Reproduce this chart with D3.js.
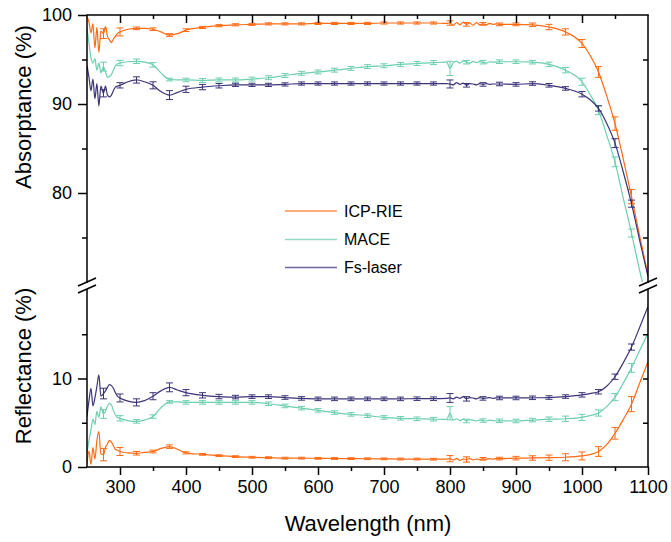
<!DOCTYPE html>
<html>
<head>
<meta charset="utf-8">
<script src="https://cdn.jsdelivr.net/npm/d3@7"></script>
<style>
  body { margin: 0; background: #fff; }
  text { font-family: "Liberation Sans", Arial, sans-serif; fill: #000; }
</style>
</head>
<body>
<div id="chart"></div>
<script>
// wavelength grid shared by every series (nm)
var wl = [250, 253, 256, 259, 262, 265, 268, 271, 275, 278, 281, 284, 287, 290, 293, 296,
  300, 312, 325, 337, 350, 362, 375, 387, 400, 425, 450, 475, 500, 525, 550, 575, 600, 625, 650, 675, 700, 725, 750, 775,
  795, 800, 805, 810, 815, 820, 825, 830, 835, 840, 845, 850, 855, 860, 865, 870,
  875, 900, 925, 950, 975, 1000, 1012, 1025, 1037, 1050, 1062, 1075, 1087, 1100];

// Absorptance (%)
var icpAbs = [99.8, 99.2, 98.0, 99.0, 96.3, 98.6, 95.8, 98.2, 97.9, 98.7, 97.6, 97.2, 96.9, 97.3, 97.6, 97.9,
  98.1, 98.4, 98.5, 98.5, 98.4, 98.1, 97.75, 97.9, 98.3, 98.6, 98.8, 98.9, 98.95, 99.0, 99.0, 99.0, 99.05, 99.05, 99.05, 99.05, 99.1, 99.1, 99.1, 99.1,
  99.05, 99.1, 98.85, 99.15, 98.9, 99.2, 98.95, 99.1, 98.85, 99.15, 98.9, 99.0, 98.9, 99.05, 98.95, 99.0,
  98.95, 98.95, 98.9, 98.65, 98.1, 96.8, 95.5, 93.6, 91.0, 87.8, 84.0, 79.6, 75.3, 70.8];
var maceAbs = [98.5, 96.8, 95.2, 94.6, 95.1, 93.8, 94.6, 93.5, 94.2, 93.6, 93.0, 93.1, 93.3, 93.8, 94.3, 94.5,
  94.6, 94.75, 94.8, 94.7, 94.4, 93.5, 92.75, 92.7, 92.7, 92.65, 92.7, 92.7, 92.8, 92.95, 93.2, 93.45, 93.6, 93.8, 94.0, 94.2, 94.3, 94.45, 94.55, 94.65,
  94.7, 94.0, 94.65, 94.8, 94.6, 94.85, 94.7, 94.6, 94.8, 94.65, 94.75, 94.7, 94.6, 94.75, 94.7, 94.7,
  94.75, 94.75, 94.7, 94.45, 93.8, 92.5, 91.1, 89.3, 86.6, 83.5, 79.6, 75.5, 71.4, 67.6];
var fsAbs = [94.3, 93.0, 91.5, 92.8, 90.6, 92.3, 89.8, 92.0, 91.2, 92.0, 91.0, 90.8, 91.0, 91.5, 91.9, 92.0,
  92.1, 92.5, 92.7, 92.5, 92.1, 91.4, 91.0, 91.3, 91.65, 91.9, 92.05, 92.15, 92.15, 92.15, 92.2, 92.3, 92.3, 92.3, 92.3, 92.3, 92.3, 92.3, 92.3, 92.3,
  92.3, 92.25, 92.15, 92.4, 92.2, 92.35, 92.1, 92.3, 92.25, 92.15, 92.3, 92.2, 92.3, 92.2, 92.25, 92.25,
  92.25, 92.2, 92.3, 92.1, 91.75, 91.1, 90.5, 89.5, 87.9, 85.6, 82.5, 78.8, 74.8, 70.6];

// Reflectance (%)
var icpRef = [0.4, 1.8, 0.3, 2.2, 0.9, 3.0, 4.0, 1.5, 1.4, 2.2, 2.6, 3.0, 2.8, 2.4, 2.0, 1.9,
  1.75, 1.6, 1.55, 1.65, 1.75, 2.1, 2.3, 2.0, 1.6, 1.43, 1.28, 1.17, 1.1, 1.05, 1.0, 1.0, 0.98, 0.96, 0.95, 0.93, 0.92, 0.9, 0.9, 0.88,
  0.88, 0.94, 0.8, 0.95, 0.75, 0.9, 0.85, 0.95, 0.8, 0.9, 0.85, 0.92, 0.88, 0.95, 0.9, 0.95,
  0.95, 1.0, 1.02, 1.05, 1.1, 1.25, 1.4, 1.75, 2.5, 3.8, 5.3, 7.1, 9.4, 11.9];
var maceRef = [1.6, 3.0, 4.2, 5.4, 4.8, 6.3, 5.6, 6.8, 6.0, 6.3, 6.9, 7.2, 7.0, 6.4, 5.9, 5.6,
  5.5, 5.25, 5.15, 5.3, 5.7, 6.7, 7.35, 7.35, 7.3, 7.3, 7.3, 7.3, 7.3, 7.15, 6.9, 6.65, 6.4, 6.15, 5.95, 5.8, 5.6, 5.5, 5.45, 5.4,
  5.38, 6.07, 5.3, 5.45, 5.25, 5.4, 5.2, 5.35, 5.3, 5.2, 5.3, 5.25, 5.2, 5.3, 5.25, 5.2,
  5.22, 5.2, 5.3, 5.4, 5.45, 5.6, 5.8, 6.1, 6.8, 7.9, 9.4, 11.2, 13.1, 15.1];
var fsRef = [5.7, 7.5, 8.9, 6.9, 7.8, 9.1, 10.4, 8.0, 8.3, 8.6, 9.0, 9.3, 9.2, 8.9, 8.4, 8.0,
  7.8, 7.45, 7.3, 7.5, 8.0, 8.6, 9.0, 8.7, 8.4, 8.1, 7.96, 7.9, 7.95, 7.95, 7.85, 7.75, 7.7, 7.7, 7.7, 7.7, 7.7, 7.7, 7.72, 7.72,
  7.75, 7.8, 7.7, 7.9, 7.75, 7.95, 7.7, 7.85, 7.8, 7.7, 7.85, 7.75, 7.8, 7.85, 7.75, 7.8,
  7.8, 7.8, 7.82, 7.85, 7.96, 8.15, 8.3, 8.5, 9.1, 10.2, 11.7, 13.55, 15.7, 18.15];

// error bar positions (nm) and half-heights (%)
var errWl = [275, 300, 325, 350, 375, 400, 425, 450, 475, 500, 525, 550, 575, 600, 625, 650, 675,
  700, 725, 750, 775, 800, 825, 850, 875, 900, 925, 950, 975, 1000, 1025, 1050, 1075];
var icpAbsErr = [0.55, 0.45, 0.15, 0.15, 0.15, 0.15, 0.12, 0.12, 0.12, 0.12, 0.12, 0.12, 0.12, 0.12, 0.12, 0.12, 0.12,
  0.12, 0.12, 0.12, 0.12, 0.25, 0.2, 0.15, 0.15, 0.15, 0.2, 0.3, 0.35, 0.45, 0.6, 0.75, 0.8];
var maceAbsErr = [0.5, 0.3, 0.25, 0.25, 0.15, 0.2, 0.22, 0.22, 0.22, 0.22, 0.22, 0.22, 0.22, 0.22, 0.22, 0.22, 0.22,
  0.22, 0.22, 0.22, 0.22, 0.8, 0.2, 0.2, 0.2, 0.2, 0.2, 0.25, 0.3, 0.4, 0.5, 0.55, 0.45];
var fsAbsErr = [0.4, 0.3, 0.35, 0.4, 0.5, 0.35, 0.3, 0.25, 0.18, 0.18, 0.18, 0.18, 0.18, 0.18, 0.18, 0.18, 0.18,
  0.18, 0.18, 0.18, 0.18, 0.45, 0.2, 0.2, 0.2, 0.2, 0.2, 0.2, 0.2, 0.3, 0.3, 0.5, 0.4];
var icpRefErr = [0.7, 0.45, 0.2, 0.15, 0.2, 0.12, 0.1, 0.1, 0.1, 0.1, 0.1, 0.1, 0.1, 0.1, 0.1, 0.1, 0.1,
  0.1, 0.1, 0.1, 0.1, 0.35, 0.3, 0.15, 0.15, 0.2, 0.25, 0.3, 0.4, 0.45, 0.55, 0.65, 0.85];
var maceRefErr = [0.5, 0.3, 0.2, 0.2, 0.15, 0.2, 0.2, 0.2, 0.2, 0.2, 0.2, 0.2, 0.2, 0.2, 0.2, 0.2, 0.2,
  0.2, 0.2, 0.2, 0.2, 0.75, 0.2, 0.2, 0.2, 0.2, 0.2, 0.25, 0.3, 0.35, 0.35, 0.4, 0.5];
var fsRefErr = [0.6, 0.45, 0.4, 0.4, 0.5, 0.35, 0.3, 0.25, 0.2, 0.2, 0.2, 0.2, 0.2, 0.2, 0.2, 0.2, 0.2,
  0.2, 0.2, 0.2, 0.2, 0.5, 0.25, 0.2, 0.2, 0.2, 0.2, 0.2, 0.2, 0.25, 0.25, 0.3, 0.35];

var seriesNames = ["ICP-RIE", "MACE", "Fs-laser"];
var seriesColors = ["#ff6a13", "#6dcfae", "#3b3479"];

var xTicks = [300, 400, 500, 600, 700, 800, 900, 1000, 1100];
var absTicks = [80, 90, 100];
var refTicks = [0, 10];

// svg size
var svgWidth = 671;
var svgHeight = 542;

var svg = d3.select("#chart")
  .append("svg")
  .attr("width", svgWidth)
  .attr("height", svgHeight);

// scales
var xScale = d3.scaleLinear().domain([250, 1100]).range([87, 648]);
var yAbs = d3.scaleLinear().domain([70, 100]).range([282, 15]);
var yRef = d3.scaleLinear().domain([0, 20]).range([467, 290]);

// clip paths for the two panels
var defs = svg.append("defs");
defs.append("clipPath").attr("id", "clipAbs")
  .append("rect").attr("x", 87).attr("y", 0).attr("width", 561).attr("height", 282);
defs.append("clipPath").attr("id", "clipRef")
  .append("rect").attr("x", 87).attr("y", 290).attr("width", 561).attr("height", 177);

function drawPanel(yScale, clipId, valueSets, errSets) {
  var g = svg.append("g").attr("clip-path", "url(#" + clipId + ")");

  valueSets.forEach(function(vals, i) {
    var pts = wl.map(function(w, j) { return [w, vals[j]]; });
    var line = d3.line()
      .x(d => xScale(d[0]))
      .y(d => yScale(d[1]))
      .curve(d3.curveMonotoneX);

    g.append("path")
      .datum(pts)
      .attr("fill", "none")
      .attr("stroke", seriesColors[i])
      .attr("stroke-width", 1.2)
      .attr("d", line);

    // error bars
    var errs = errWl.map(function(w, k) {
      return { w: w, v: vals[wl.indexOf(w)], e: errSets[i][k] };
    });
    var bars = g.append("g")
      .attr("stroke", seriesColors[i])
      .attr("stroke-width", 1);
    errs.forEach(function(d) {
      var x = xScale(d.w);
      var y1 = yScale(d.v - d.e);
      var y2 = yScale(d.v + d.e);
      bars.append("line").attr("x1", x).attr("x2", x).attr("y1", y1).attr("y2", y2);
      bars.append("line").attr("x1", x - 3.5).attr("x2", x + 3.5).attr("y1", y1).attr("y2", y1);
      bars.append("line").attr("x1", x - 3.5).attr("x2", x + 3.5).attr("y1", y2).attr("y2", y2);
    });
  });
}

drawPanel(yAbs, "clipAbs", [icpAbs, maceAbs, fsAbs], [icpAbsErr, maceAbsErr, fsAbsErr]);
drawPanel(yRef, "clipRef", [icpRef, maceRef, fsRef], [icpRefErr, maceRefErr, fsRefErr]);

// axes
var axisStroke = 1.5;
var fmt = d3.format("d");

// bottom axis: outward ticks
var bottomAxis = d3.axisBottom(xScale).tickValues(xTicks).tickFormat(fmt).tickSize(8).tickPadding(5).tickSizeOuter(0);
var bottomMinor = d3.axisBottom(xScale).tickValues([350, 450, 550, 650, 750, 850, 950, 1050]).tickSize(4).tickFormat("").tickSizeOuter(0);
svg.append("g").attr("transform", "translate(0,467)").call(bottomAxis);
svg.append("g").attr("transform", "translate(0,467)").call(bottomMinor);

// top axis: ticks point down into the plot, no labels
var topAxis = d3.axisBottom(xScale).tickValues([300, 400, 500, 600, 700, 800, 900, 1000]).tickSize(8).tickFormat("").tickSizeOuter(0);
var topMinor = d3.axisBottom(xScale).tickValues([350, 450, 550, 650, 750, 850, 950, 1050]).tickSize(4).tickFormat("").tickSizeOuter(0);
svg.append("g").attr("transform", "translate(0,15)").call(topAxis);
svg.append("g").attr("transform", "translate(0,15)").call(topMinor);

// left axes: outward ticks
var leftAbs = d3.axisLeft(yAbs).tickValues(absTicks).tickFormat(fmt).tickSize(9).tickPadding(6).tickSizeOuter(0);
var leftAbsMinor = d3.axisLeft(yAbs).tickValues([75, 85, 95]).tickSize(5).tickFormat("").tickSizeOuter(0);
var leftRef = d3.axisLeft(yRef).tickValues(refTicks).tickFormat(fmt).tickSize(9).tickPadding(6).tickSizeOuter(0);
var leftRefMinor = d3.axisLeft(yRef).tickValues([5, 15]).tickSize(5).tickFormat("").tickSizeOuter(0);
svg.append("g").attr("transform", "translate(87,0)").call(leftAbs);
svg.append("g").attr("transform", "translate(87,0)").call(leftAbsMinor);
svg.append("g").attr("transform", "translate(87,0)").call(leftRef);
svg.append("g").attr("transform", "translate(87,0)").call(leftRefMinor);

// right axes: inward ticks
var rightAbs = d3.axisRight(yAbs).tickValues([75, 80, 85, 90, 95]).tickSize(-5).tickFormat("").tickSizeOuter(0);
var rightRef = d3.axisRight(yRef).tickValues([5, 10, 15]).tickSize(-5).tickFormat("").tickSizeOuter(0);
svg.append("g").attr("transform", "translate(648,0)").call(rightAbs);
svg.append("g").attr("transform", "translate(648,0)").call(rightRef);

svg.selectAll(".domain").remove();
svg.selectAll(".tick line").attr("stroke", "#000").attr("stroke-width", axisStroke);
svg.selectAll(".tick text")
  .style("font-family", "'Liberation Sans', Arial, sans-serif")
  .style("font-size", "18px")
  .attr("fill", "#000");

// frame lines
var frame = svg.append("g").attr("stroke", "#000").attr("stroke-width", axisStroke).attr("fill", "none");
frame.append("line").attr("x1", 86.25).attr("x2", 648.75).attr("y1", 15).attr("y2", 15);
frame.append("line").attr("x1", 86.25).attr("x2", 648.75).attr("y1", 467).attr("y2", 467);
frame.append("line").attr("x1", 87).attr("x2", 87).attr("y1", 15).attr("y2", 283);
frame.append("line").attr("x1", 87).attr("x2", 87).attr("y1", 289).attr("y2", 467);
frame.append("line").attr("x1", 648).attr("x2", 648).attr("y1", 15).attr("y2", 283);
frame.append("line").attr("x1", 648).attr("x2", 648).attr("y1", 289).attr("y2", 467);

// axis break marks
[87, 648].forEach(function(x) {
  frame.append("line").attr("x1", x - 9).attr("x2", x + 9).attr("y1", 286).attr("y2", 278);
  frame.append("line").attr("x1", x - 9).attr("x2", x + 9).attr("y1", 293).attr("y2", 285);
});

// axis titles
svg.append("text")
  .attr("transform", "translate(31,107) rotate(-90)")
  .attr("text-anchor", "middle")
  .style("font-size", "22px")
  .text("Absorptance (%)");

svg.append("text")
  .attr("transform", "translate(31,366) rotate(-90)")
  .attr("text-anchor", "middle")
  .style("font-size", "22px")
  .text("Reflectance (%)");

svg.append("text")
  .attr("x", 368)
  .attr("y", 531)
  .attr("text-anchor", "middle")
  .style("font-size", "22px")
  .text("Wavelength (nm)");

// legend
var legendY = [211, 239.5, 267.5];
var legend = svg.append("g");
seriesNames.forEach(function(name, i) {
  legend.append("line")
    .attr("x1", 285).attr("x2", 337)
    .attr("y1", legendY[i]).attr("y2", legendY[i])
    .attr("stroke", seriesColors[i])
    .attr("stroke-opacity", 0.75)
    .attr("stroke-width", 1.5);
  legend.append("text")
    .attr("x", 344)
    .attr("y", legendY[i])
    .attr("dy", "0.36em")
    .style("font-size", "16px")
    .text(name);
});
</script>
</body>
</html>
